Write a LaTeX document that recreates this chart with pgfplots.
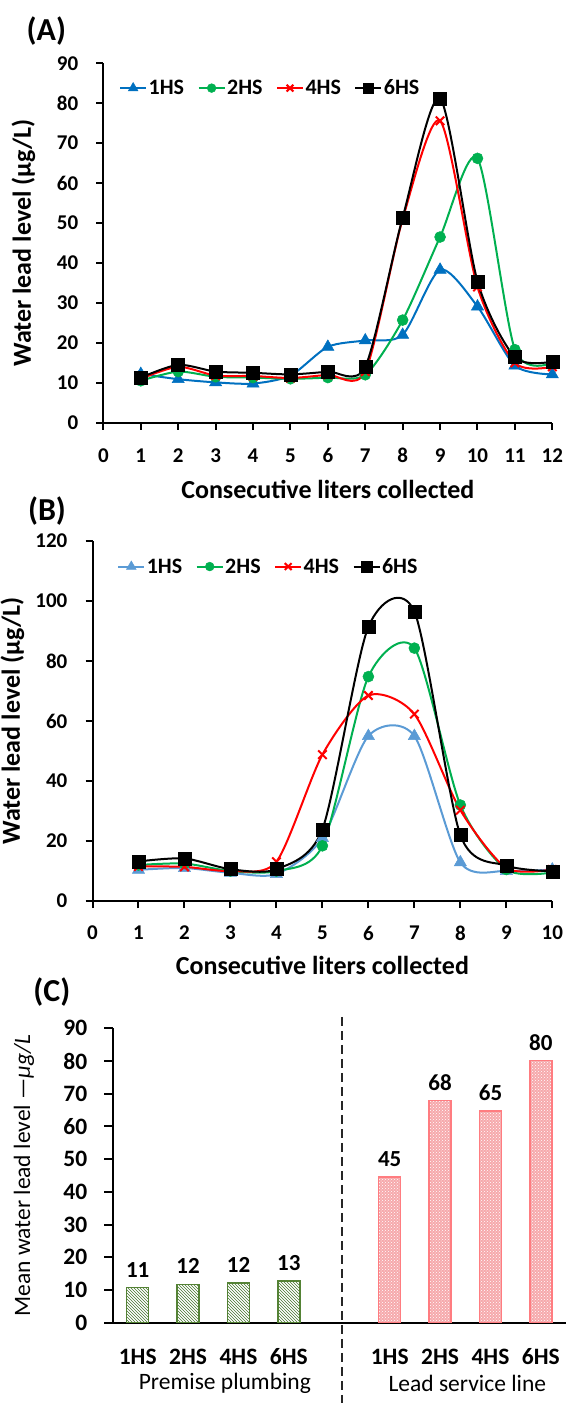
\documentclass[border=0pt]{standalone}
\usepackage{fontspec}
\setmainfont{Carlito}
\usepackage{pgfplots}
\usepackage{pgfplotstable}
\pgfplotsset{compat=1.18}
\usetikzlibrary{patterns}

\definecolor{blueA}{HTML}{0070C0}
\definecolor{blueB}{HTML}{5B9BD5}
\definecolor{greenL}{HTML}{00B050}
\definecolor{redL}{HTML}{FF0000}
\definecolor{barG}{HTML}{548235}
\definecolor{barGh}{HTML}{44742D}
\definecolor{barR}{HTML}{FF7C80}
\definecolor{barRf}{HTML}{F6A9AC}

\newcommand{\tickfont}{\fontsize{21}{24}\selectfont\bfseries}
\newcommand{\ctickfont}{\fontsize{23.5}{27}\selectfont\bfseries}
\newcommand{\labfont}{\fontsize{26}{30}\selectfont\bfseries}
\newcommand{\legfont}{\fontsize{22}{26}\selectfont\bfseries}
\newcommand{\titlefont}{\fontsize{32}{36}\selectfont\bfseries}
\newcommand{\datafont}{\fontsize{23}{27}\selectfont\bfseries}
\newcommand{\grpfont}{\fontsize{23.5}{27}\selectfont}
\newcommand{\cylabfont}{\fontsize{23.5}{27}\selectfont}

\pgfplotstableread{
x h1 h2 h4 h6
1 12.2 10.5 11.0 11.3
2 10.9 12.8 14.0 14.5
3 10.1 11.5 11.8 12.8
4 9.8 11.3 11.7 12.5
5 11.8 11.0 11.2 12.1
6 19.0 11.3 12.0 12.8
7 20.6 12.0 12.8 14.0
8 22.0 25.7 51.0 51.4
9 38.3 46.5 75.6 81.2
10 29.1 66.2 34.0 35.4
11 14.3 18.3 15.0 16.4
12 12.1 15.0 14.0 15.3
}\dataA

\pgfplotstableread{
x h1 h2 h4 h6
1 10.4 12.0 11.5 13.2
2 11.0 12.5 11.4 14.2
3 9.4 10.0 10.0 10.6
4 9.0 10.0 13.1 10.6
5 21.0 18.4 48.8 23.9
6 55.0 74.8 68.5 91.4
7 55.0 84.3 62.3 96.5
8 12.9 32.0 30.3 22.0
9 10.0 10.5 11.0 11.8
10 10.5 9.5 10.5 9.9
}\dataB

\pgfplotsset{
  /pgf/number format/assume math mode=true,
  linepanel/.style={
    scale only axis, clip=false,
    axis lines=left, axis line style={-, line width=2pt},
    tick align=outside, major tick length=7pt,
    tick style={line width=2pt, black},
    tick label style={font=\tickfont},
    yticklabel style={anchor=east, inner sep=0pt, xshift=-18pt},
    every axis x label/.style={anchor=center, font=\labfont},
    every axis y label/.style={anchor=center, rotate=90, font=\labfont},
    legend columns=4,
    legend style={anchor=west, draw=none, fill=none, font=\legfont,
      /tikz/every even column/.append style={column sep=12pt},
      nodes={inner sep=1.5pt}},
    legend image code/.code={\draw[mark repeat=2,mark phase=2,
      /tikz/every mark/.append style={scale=0.8}]
      plot coordinates {(0pt,0pt) (13pt,0pt) (26pt,0pt)};},
  },
  s1/.style={#1, line width=2pt, smooth, tension=0.45, mark=triangle*, mark size=7pt,
    mark options={solid, line width=0.5pt, fill=#1}},
  s2/.style={greenL, line width=2pt, smooth, tension=0.45, mark=*, mark size=5.5pt,
    mark options={solid, line width=0.5pt, fill=greenL}},
  s4/.style={redL, line width=2pt, smooth, tension=0.45, mark=x, mark size=6pt,
    mark options={solid, line width=2pt}},
  s6/.style={black, line width=2pt, smooth, tension=0.45, mark=square*, mark size=6.5pt,
    mark options={solid, line width=0.5pt, fill=black}},
}

\begin{document}
\begin{tikzpicture}
\useasboundingbox (0,0) rectangle (569pt,-1403pt);

% ---------------- (A)
\node[font=\titlefont] at (46.3pt,-31.5pt) {(A)};
\begin{axis}[linepanel,
  at={(103.4pt,-422.7pt)}, anchor=south west,
  width=448.9pt, height=359.4pt,
  xmin=0, xmax=12, ymin=0, ymax=90,
  xtick={0,1,...,12}, ytick={0,10,...,90},
  xticklabel style={anchor=center, inner sep=0pt, yshift=-26pt},
  xlabel={Consecutive liters collected},
  ylabel={Water lead level (µg/L)},
  xlabel style={at={(axis description cs:0.5,-0.186)}},
  ylabel style={at={(axis description cs:-0.178,0.5)}},
  legend style={at={(axis description cs:0.028,0.931)}},
]
\addplot[s1=blueA] table[x=x,y=h1] {\dataA};
\addlegendentry{1HS}
\addplot[s2] table[x=x,y=h2] {\dataA};
\addlegendentry{2HS}
\addplot[s4] table[x=x,y=h4] {\dataA};
\addlegendentry{4HS}
\addplot[s6] table[x=x,y=h6] {\dataA};
\addlegendentry{6HS}
\end{axis}

% ---------------- (B)
\node[font=\titlefont] at (47pt,-511pt) {(B)};
\begin{axis}[linepanel,
  at={(92.5pt,-901pt)}, anchor=south west,
  width=459.8pt, height=360pt,
  xmin=0, xmax=10, ymin=0, ymax=120,
  xtick={0,1,...,10}, ytick={0,20,...,120},
  xticklabel style={anchor=center, inner sep=0pt, yshift=-25pt},
  xlabel={Consecutive liters collected},
  ylabel={Water lead level (µg/L)},
  xlabel style={at={(axis description cs:0.5,-0.178)}},
  ylabel style={at={(axis description cs:-0.174,0.5)}},
  legend style={at={(axis description cs:0.047,0.929)}},
]
\addplot[s1=blueB] table[x=x,y=h1] {\dataB};
\addlegendentry{1HS}
\addplot[s2] table[x=x,y=h2] {\dataB};
\addlegendentry{2HS}
\addplot[s4] table[x=x,y=h4] {\dataB};
\addlegendentry{4HS}
\addplot[s6] table[x=x,y=h6] {\dataB};
\addlegendentry{6HS}
\end{axis}

% ---------------- (C)
\node[font=\titlefont] at (51.8pt,-992pt) {(C)};
\begin{axis}[
  scale only axis, clip=false,
  at={(112.5pt,-1322.7pt)}, anchor=south west,
  width=453.6pt, height=294.4pt,
  xmin=-0.5, xmax=8.5, ymin=0, ymax=90,
  axis lines=left, axis line style={-, line width=2pt},
  tick align=outside, major tick length=8pt,
  tick style={line width=2pt, black},
  xtick style={draw=none},
  xtick={0,1,2,3,5,6,7,8},
  xticklabels={1HS,2HS,4HS,6HS,1HS,2HS,4HS,6HS},
  ytick={0,10,...,90},
  tick label style={font=\ctickfont},
  xticklabel style={anchor=center, inner sep=0pt, yshift=-26pt},
  yticklabel style={anchor=east, inner sep=0pt, xshift=-17pt},
  ylabel={Mean water lead level —\textit{μg/L}},
  every axis y label/.style={anchor=center, rotate=90, font=\cylabfont},
  ylabel style={at={(axis description cs:-0.195,0.5)}},
  nodes near coords={\pgfmathprintnumber[fixed,precision=0]{\pgfplotspointmeta}},
  every node near coord/.append style={font=\datafont, text=black, anchor=center, yshift=18pt},
]
\addplot[ybar, bar width=22pt, bar shift=0pt, draw=barG, line width=1.5pt,
  pattern=north west lines, pattern color=barGh]
  coordinates {(0,10.7) (1,11.7) (2,12.1) (3,12.8)};
\addplot[ybar, bar width=22pt, bar shift=0pt, draw=barR, line width=1.5pt,
  fill=barRf, postaction={pattern=crosshatch dots, pattern color=white}]
  coordinates {(5,44.6) (6,68.0) (7,64.8) (8,80.2)};
\draw[black!85, line width=2pt, dash pattern=on 9pt off 5pt]
  (axis cs:4.05,93.5) -- (axis cs:4.05,-24.6);
\node[font=\grpfont] at (axis cs:1.73,0) [yshift=-60.6pt] {Premise plumbing};
\node[font=\grpfont] at (axis cs:6.54,0) [yshift=-60.6pt] {Lead service line};
\end{axis}
\end{tikzpicture}
\end{document}
